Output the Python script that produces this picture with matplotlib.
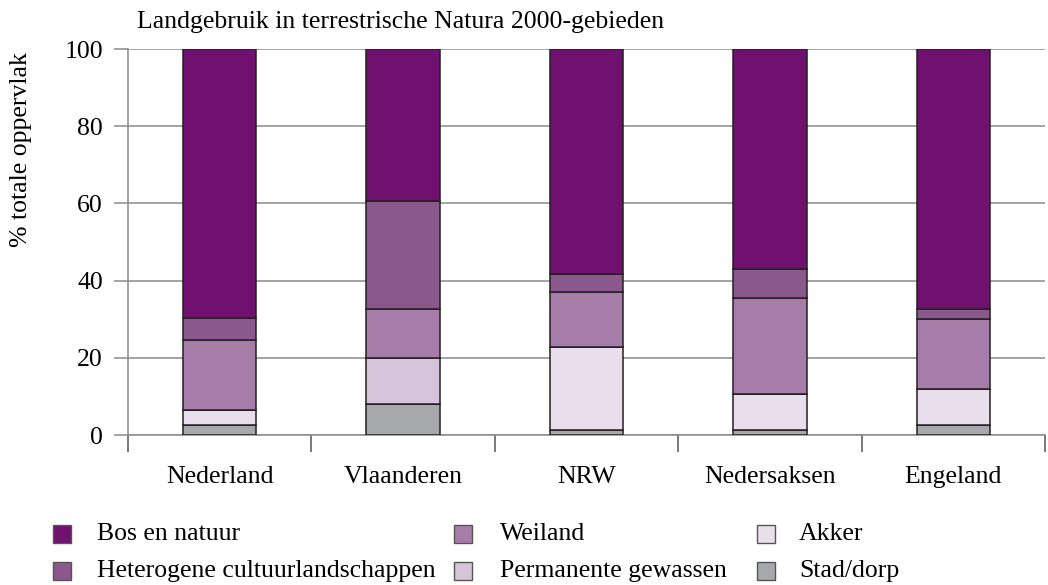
import matplotlib.pyplot as plt
from matplotlib.patches import Rectangle
import numpy as np

plt.rcParams['font.family'] = ['Liberation Serif', 'DejaVu Serif']

# data (percent of total area)
regions = ["Nederland", "Vlaanderen", "NRW", "Nedersaksen", "Engeland"]
stad_dorp = [2.5, 8.0, 1.2, 1.2, 2.7]
akker = [4.0, 0.0, 21.7, 9.3, 9.3]
permanente_gewassen = [0.0, 12.0, 0.0, 0.0, 0.0]
weiland = [18.0, 12.7, 14.2, 25.1, 18.1]
heterogeen = [5.7, 28.0, 4.6, 7.4, 2.6]
bos_natuur = [69.8, 39.3, 58.3, 57.0, 67.3]

title = "Landgebruik in terrestrische Natura 2000-gebieden"
ylabel = "% totale oppervlak"

# stacking order from bottom to top
layers = [
    ("Stad/dorp", stad_dorp, "#a7a8ab"),
    ("Akker", akker, "#e9dfec"),
    ("Permanente gewassen", permanente_gewassen, "#d6c4db"),
    ("Weiland", weiland, "#a67da9"),
    ("Heterogene cultuurlandschappen", heterogeen, "#8b588e"),
    ("Bos en natuur", bos_natuur, "#701170"),
]
colors = {name: col for name, _, col in layers}

W, H = 1048, 585
FS = 18.5
fig = plt.figure(figsize=(W / 100, H / 100), dpi=100)
ax = fig.add_axes([128 / W, 1 - 435 / H, 917 / W, 386 / H])

x = np.arange(len(regions))
bottom = np.zeros(len(regions))
for name, vals, col in layers:
    vals = np.array(vals)
    ax.bar(x, vals, 0.4, bottom=bottom, color=col, edgecolor="#231f20",
           linewidth=1.1, zorder=3, label=name)
    bottom += vals

ax.set_xlim(-0.5, len(regions) - 0.5)
ax.set_ylim(0, 100)
ax.set_yticks([0, 20, 40, 60, 80, 100])
ax.yaxis.grid(True, color="#8a8a8a", linewidth=1.1, zorder=0)
ax.set_axisbelow(True)

ax.set_xticks(x)
ax.set_xticklabels(regions, fontsize=FS)
ax.set_xticks(np.arange(len(regions) + 1) - 0.5, minor=True)
ax.tick_params(axis="x", which="major", length=0, pad=22)
ax.tick_params(axis="x", which="minor", length=12, width=1.1, color="#555555")
ax.tick_params(axis="y", length=10, width=1.1, color="#8a8a8a", labelsize=FS, pad=8)

for s in ["top", "right"]:
    ax.spines[s].set_visible(False)
for s in ["left", "bottom"]:
    ax.spines[s].set_color("#8a8a8a")
    ax.spines[s].set_linewidth(1.1)

fig.text(137 / W, 1 - 22 / H, title, fontsize=FS, va="center", ha="left")
fig.text(21 / W, 1 - 150 / H, ylabel, fontsize=FS, rotation=90,
         va="center", ha="center")

# legend, laid out in three columns like the original
legend_rows = [
    ["Bos en natuur", "Weiland", "Akker"],
    ["Heterogene cultuurlandschappen", "Permanente gewassen", "Stad/dorp"],
]
box_x = [53, 454, 757]
text_x = [97, 500, 799]
row_y = [534, 571]
box = 18
for r, names in enumerate(legend_rows):
    for c, name in enumerate(names):
        fig.add_artist(Rectangle((box_x[c] / W, 1 - (row_y[r] + box / 2) / H),
                                 box / W, box / H, transform=fig.transFigure,
                                 facecolor=colors[name], edgecolor="#555555",
                                 linewidth=1.0))
        fig.text(text_x[c] / W, 1 - row_y[r] / H, name, fontsize=FS,
                 va="center", ha="left")

fig.savefig("out.png", dpi=100)
